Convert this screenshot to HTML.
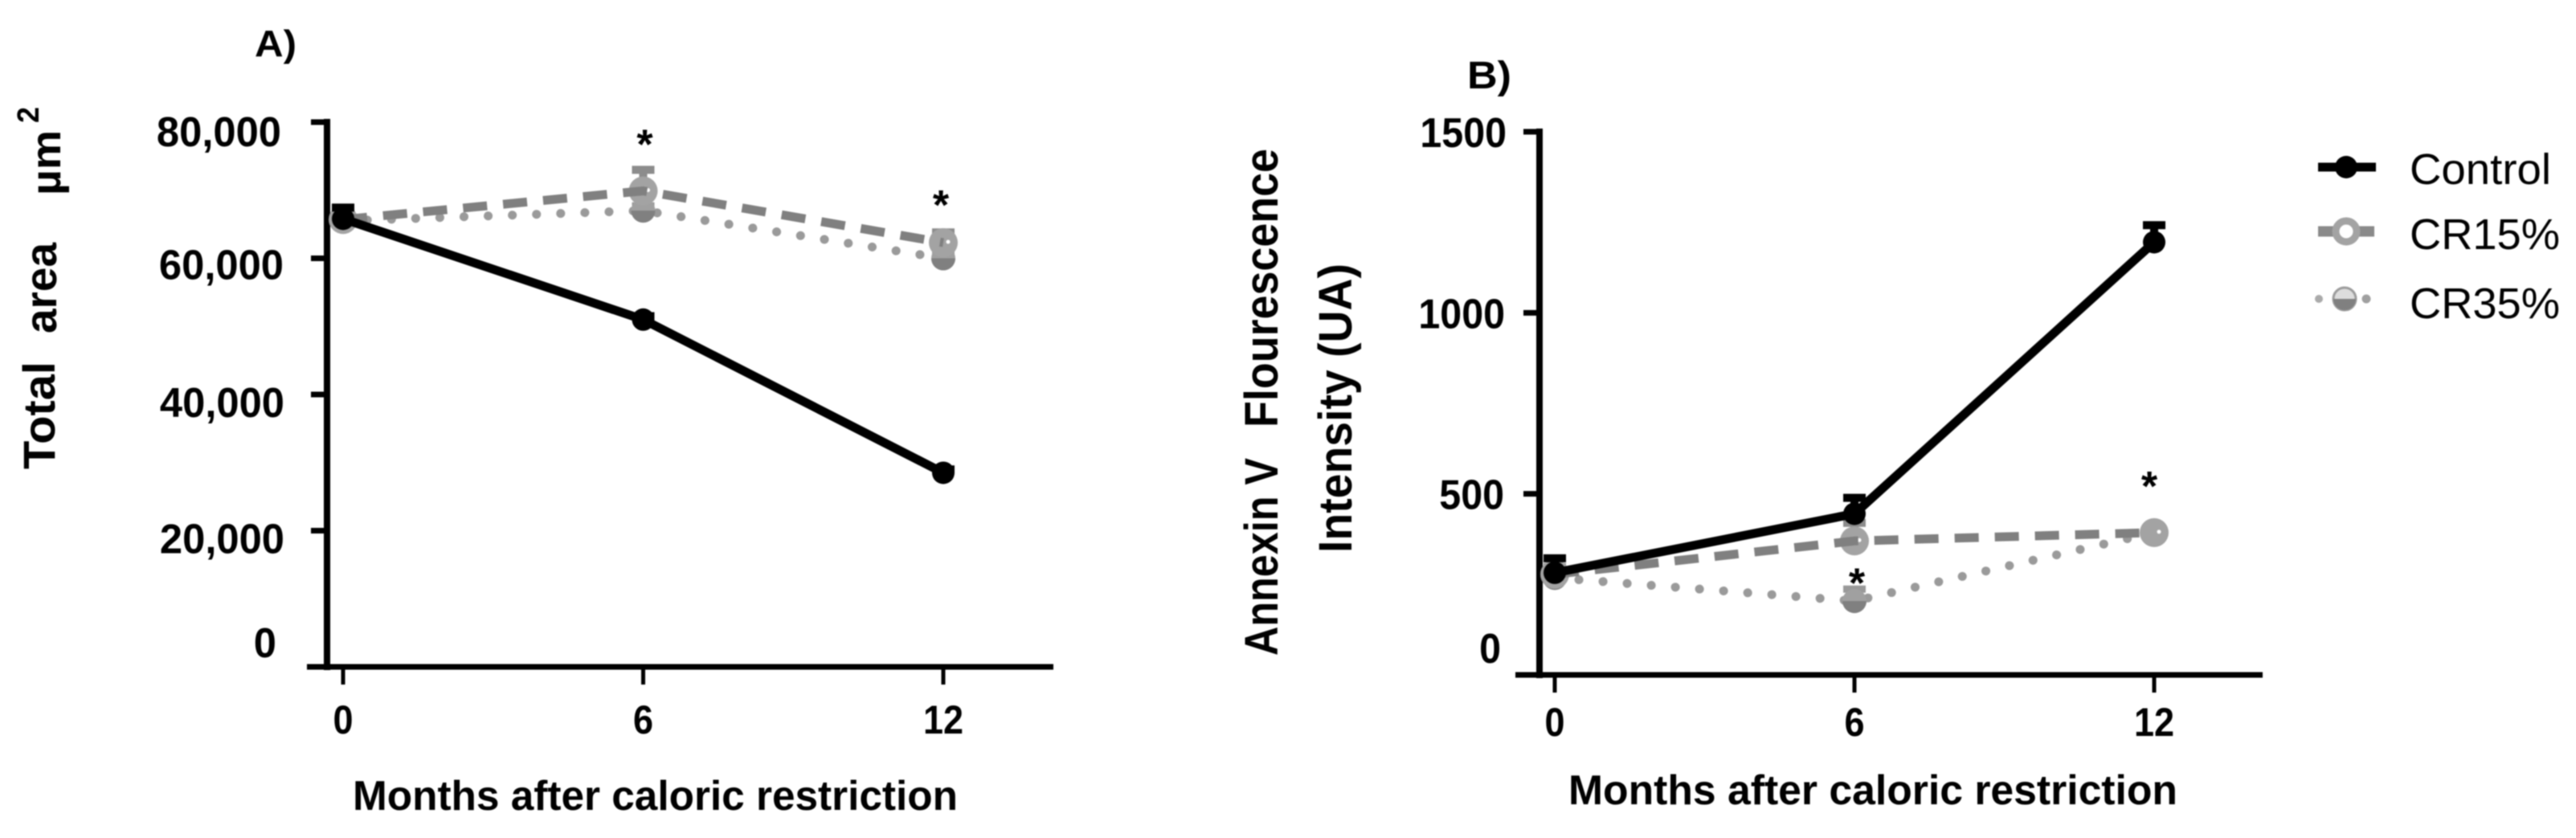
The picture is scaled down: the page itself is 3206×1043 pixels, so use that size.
<!DOCTYPE html>
<html lang="en">
<head>
<meta charset="utf-8">
<title>Total area and Annexin V intensity after caloric restriction</title>
<style>
html,body{margin:0;padding:0;background:#fff;width:3206px;height:1043px;overflow:hidden}
svg{display:block;filter:blur(.7px)}
text{font-family:"Liberation Sans",Arial,sans-serif;fill:#000}
.b{font-weight:bold}
</style>
</head>
<body>
<svg id="chart" xmlns="http://www.w3.org/2000/svg" width="3206" height="1043" viewBox="0 0 3206 1043">
  <rect x="0" y="0" width="3206" height="1043" fill="#fff"/>

  <text class="b" x="317" y="70" font-size="46" textLength="52" lengthAdjust="spacingAndGlyphs">A)</text>
  <text class="b" x="1826" y="110" font-size="48" textLength="55" lengthAdjust="spacingAndGlyphs">B)</text>

  <text class="b" transform="translate(68 584) rotate(-90)" font-size="56" textLength="134" lengthAdjust="spacingAndGlyphs">Total</text>
  <text class="b" transform="translate(70 415) rotate(-90)" font-size="56" textLength="113" lengthAdjust="spacingAndGlyphs">area</text>
  <text class="b" transform="translate(75 243) rotate(-90)" font-size="52" textLength="81" lengthAdjust="spacingAndGlyphs">µm</text>
  <text class="b" transform="translate(48 153) rotate(-90)" font-size="38" textLength="20" lengthAdjust="spacingAndGlyphs">2</text>

  <text class="b" transform="translate(1590 816) rotate(-90)" font-size="58" textLength="246" lengthAdjust="spacingAndGlyphs">Annexin V</text>
  <text class="b" transform="translate(1590 532) rotate(-90)" font-size="58" textLength="347" lengthAdjust="spacingAndGlyphs">Flourescence</text>
  <text class="b" transform="translate(1682 688) rotate(-90)" font-size="58" textLength="360" lengthAdjust="spacingAndGlyphs">Intensity (UA)</text>

  <text class="b" x="439" y="1008" font-size="52" textLength="753" lengthAdjust="spacingAndGlyphs">Months after caloric restriction</text>
  <text class="b" x="1952" y="1001" font-size="52" textLength="758" lengthAdjust="spacingAndGlyphs">Months after caloric restriction</text>

  <g id="panelA"></g>
  <g id="panelB"></g>

  <g>
    <g>
      <line x1="2885" y1="208" x2="2957" y2="208" stroke="#000" stroke-width="11"/>
      <circle cx="2920" cy="208" r="14" fill="#000"/>
      <text x="2999" y="229" font-size="54" textLength="176" lengthAdjust="spacingAndGlyphs">Control</text>
    </g>
    <g>
      <line x1="2885" y1="288" x2="2955" y2="288" stroke="#8a8a8a" stroke-width="13"/>
      <circle cx="2920" cy="288" r="13" fill="#fff" stroke="#a3a3a3" stroke-width="9"/>
      <text x="2999" y="310" font-size="54" textLength="187" lengthAdjust="spacingAndGlyphs">CR15%</text>
    </g>
    <g>
      <circle cx="2886" cy="372" r="5" fill="#aaa"/>
      <circle cx="2945" cy="372" r="5.5" fill="#a0a0a0"/>
      <circle cx="2918" cy="372" r="14" fill="#ddd" stroke="#9c9c9c" stroke-width="3"/>
      <path d="M2904 372 A14 14 0 0 0 2932 372 Z" fill="#808080"/>
      <text x="2999" y="396" font-size="54" textLength="187" lengthAdjust="spacingAndGlyphs">CR35%</text>
    </g>
  </g>
</svg>

<script>
/* Shared category data */
const months = [0, 6, 12];

/* Panel A data: total area (µm²) */
const aTickValues = [0, 20000, 40000, 60000, 80000];
const aTickLabels = ["0", "20,000", "40,000", "60,000", "80,000"];
const aControl = [65800, 51000, 28500];
const aControlErr = [1650, 500, 500];
const aCR15 = [65700, 69900, 62300];
const aCR15Err = [600, 3100, 1500];
const aCR35 = [65500, 67000, 60000];
const aCR35Err = [400, 700, 600];

/* Panel B data: Annexin V fluorescence intensity (UA) */
const bTickValues = [0, 500, 1000, 1500];
const bTickLabels = ["0", "500", "1000", "1500"];
const bControl = [282, 445, 1195];
const bControlErr = [40, 44, 47];
const bCR15 = [278, 370, 393];
const bCR15Err = [20, 50, 12];
const bCR35 = [268, 204, 393];
const bCR35Err = [14, 33, 10];

const NS = "http://www.w3.org/2000/svg";

function mk(parent, tag, attrs) {
  const el = document.createElementNS(NS, tag);
  for (const k in attrs) el.setAttribute(k, attrs[k]);
  parent.appendChild(el);
  return el;
}

function drawPanel(root, p) {
  const xs = m => p.x0 + (m - 0) * (p.x12 - p.x0) / 12;
  const ys = v => p.yZero - v * (p.yZero - p.yTop) / p.yMax;

  /* axes */
  const yAxis = mk(root, "line", {x1: p.axisX, x2: p.axisX, y1: p.yTop - 4, y2: p.yZero + 4, stroke: "#000", "stroke-width": 8});
  
  
  const xAxis = mk(root, "line", {x1: p.xAxisStart, x2: p.xAxisEnd, y1: p.yZero, y2: p.yZero, stroke: "#000", "stroke-width": 7});
  
  

  /* y ticks + labels */
  p.tickValues.forEach((v, i) => {
    const t = mk(root, "line", {x1: p.axisX - 20, x2: p.axisX, y1: ys(v), y2: ys(v), stroke: "#000", "stroke-width": 7});
    
    
    const lab = mk(root, "text", {x: p.labelRight + p.rightNudge(v), y: ys(v) + p.nudge(v), "font-size": 52, "font-weight": "bold", "text-anchor": "end"});
    
    
    lab.textContent = p.tickLabels[i];
    const w = lab.getComputedTextLength();
    lab.setAttribute("textLength", w * p.labelStretch);
    lab.setAttribute("lengthAdjust", "spacingAndGlyphs");
  });

  /* x ticks + labels */
  months.forEach(m => {
    const t = mk(root, "line", {x1: xs(m), x2: xs(m), y1: p.yZero, y2: p.yZero + 22, stroke: "#000", "stroke-width": 5});
    
    
    const lab = mk(root, "text", {x: xs(m), y: p.xLabelY, "font-size": 50, "font-weight": "bold", "text-anchor": "middle"});
    
    
    lab.textContent = String(m);
    const w = lab.getComputedTextLength();
    lab.setAttribute("textLength", w * 0.9);
    lab.setAttribute("lengthAdjust", "spacingAndGlyphs");
  });

  const points = vals => months.map((m, i) => xs(m) + "," + ys(vals[i])).join(" ");

  /* CR35 dotted */
  const l35 = mk(root, "polyline", {points: points(p.cr35), fill: "none", stroke: "#9a9a9a", "stroke-width": 11, "stroke-dasharray": "0.1 30", "stroke-linecap": "round"});
  
  
  months.forEach((m, i) => {
    const cx = xs(m), cy = ys(p.cr35[i]);
    const e = mk(root, "path", {d: `M${cx} ${cy} V${ys(p.cr35[i] + p.cr35Err[i])} m-14 0 h28`, stroke: "#999", "stroke-width": 9, fill: "none"});
    
    
    const c = mk(root, "circle", {cx: cx, cy: cy, r: 15, fill: "#a0a0a0"});
    
    
    const h = mk(root, "path", {d: `M${cx - 15} ${cy} A15 15 0 0 0 ${cx + 15} ${cy} Z`, fill: "#808080"});
    
    
  });

  /* CR15 dashed */
  months.forEach((m, i) => {
    const cx = xs(m), cy = ys(p.cr15[i]);
    const e = mk(root, "path", {d: `M${cx} ${cy} V${ys(p.cr15[i] + p.cr15Err[i])} m-14 0 h28`, stroke: "#8c8c8c", "stroke-width": 10, fill: "none"});
    
    
    const c = mk(root, "circle", {cx: cx, cy: cy, r: 18, fill: "#a3a3a3"});
    
    
    const s = mk(root, "circle", {cx: cx + 6, cy: cy - 1, r: 2.5, fill: "#fff"});
    
    
  });
  const l15 = mk(root, "polyline", {points: points(p.cr15), fill: "none", stroke: "#808080", "stroke-width": 11, "stroke-dasharray": "30 20"});
  
  

  /* Control solid */
  const l0 = mk(root, "polyline", {points: points(p.control), fill: "none", stroke: "#000", "stroke-width": 11});
  
  
  months.forEach((m, i) => {
    const cx = xs(m), cy = ys(p.control[i]);
    const e = mk(root, "path", {d: `M${cx} ${cy} V${ys(p.control[i] + p.controlErr[i])} m-14 0 h28`, stroke: "#000", "stroke-width": 10, fill: "none"});
    
    
    const c = mk(root, "circle", {cx: cx, cy: cy, r: 14, fill: "#000"});
    
    
  });

  /* significance stars */
  p.stars.forEach(s => {
    const t = mk(root, "text", {x: xs(s.month) + s.dx, y: ys(p.cr15[months.indexOf(s.month)]) + s.dy, "font-size": 52, "font-weight": "bold", "text-anchor": "middle"});
    
    
    t.textContent = "*";
  });
}

drawPanel(document.getElementById("panelA"), {
  x0: 427, x12: 1174, yZero: 830, yTop: 152, yMax: 80000, axisX: 407,
  xAxisStart: 382, xAxisEnd: 1311, labelRight: 350, xLabelY: 913,
  labelStretch: 0.975,
  tickValues: aTickValues, tickLabels: aTickLabels,
  nudge: v => v === 0 ? -12 : (v === 80000 ? 30 : (v === 60000 ? 26 : 28)),
  rightNudge: v => v === 0 ? -6 : (v === 80000 ? 0 : (v === 60000 ? 3 : 4)),
  control: aControl, controlErr: aControlErr,
  cr15: aCR15, cr15Err: aCR15Err, cr35: aCR35, cr35Err: aCR35Err,
  stars: [{month: 6, dx: 2, dy: -40}, {month: 12, dx: -3, dy: -29}]
});

drawPanel(document.getElementById("panelB"), {
  x0: 1935, x12: 2681, yZero: 840, yTop: 164, yMax: 1500, axisX: 1916,
  xAxisStart: 1886, xAxisEnd: 2816, labelRight: 1872, xLabelY: 916,
  labelStretch: 0.93,
  tickValues: bTickValues, tickLabels: bTickLabels,
  nudge: v => v === 0 ? -15 : 19,
  rightNudge: v => v === 0 ? -4 : (v === 1500 ? 3 : (v === 1000 ? 1 : 0)),
  control: bControl, controlErr: bControlErr,
  cr15: bCR15, cr15Err: bCR15Err, cr35: bCR35, cr35Err: bCR35Err,
  stars: [{month: 6, dx: 3, dy: 70}, {month: 12, dx: -6, dy: -40}]
});
</script>
</body>
</html>
